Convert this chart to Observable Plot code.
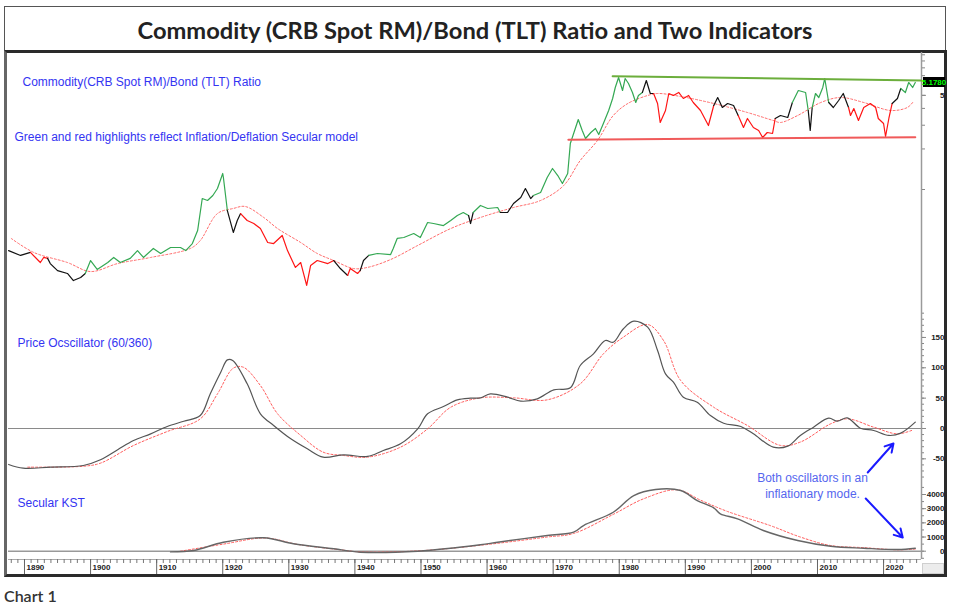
<!DOCTYPE html>
<html><head><meta charset="utf-8">
<script src="https://cdn.jsdelivr.net/npm/d3@7"></script>
<script src="https://cdn.jsdelivr.net/npm/@observablehq/plot@0.6"></script>
<style>
body{margin:0;background:#fff;}
#wrap{position:relative;width:960px;height:609px;background:#fff;overflow:hidden;}
#title{position:absolute;left:4px;top:6px;width:942px;height:46px;box-sizing:border-box;border:1.5px solid #555;border-bottom:none;font-family:Lato,"Open Sans",sans-serif;font-weight:700;font-size:23.7px;color:#222;text-align:center;line-height:46px;}
#frame{position:absolute;left:4px;top:50px;width:943px;height:527px;box-sizing:border-box;border:3px solid #2a2a2a;border-left-color:#666;}
#corner{position:absolute;left:922px;top:563px;width:22px;height:11px;box-sizing:border-box;background:#ececec;border:1px solid #cfcfcf;}
.panel{position:absolute;left:0;}
#caption{position:absolute;left:4px;top:586px;font-family:Lato,"Open Sans",sans-serif;font-weight:600;font-size:16px;color:#333;}
</style></head>
<body>
<div id="wrap">
  <div id="title">Commodity (CRB Spot RM)/Bond (TLT) Ratio and Two Indicators</div>
  <div id="frame"></div>
  <div id="corner"></div>
  <div id="pA" class="panel" style="top:52px"></div>
  <div id="pB" class="panel" style="top:308px"></div>
  <div id="pC" class="panel" style="top:480px"></div>
  <div id="caption">Chart 1</div>
</div>
<script>
// ---------- DATA ----------
const ratioYears = [1887.6,1889.4,1890.9,1892.4,1892.9,1893.5,1893.9,1895.0,1896.5,1897.4,1898.5,1899.2,1900.0,1901.0,1902.6,1903.5,1904.5,1906.0,1907.1,1908.0,1909.5,1910.6,1912.1,1913.6,1914.4,1915.4,1916.2,1916.9,1917.7,1918.5,1919.2,1920.0,1920.1,1920.7,1921.6,1922.2,1922.7,1923.7,1924.7,1925.7,1926.8,1927.7,1929.0,1929.8,1931.0,1931.8,1932.7,1933.3,1934.3,1935.9,1936.8,1937.8,1938.9,1939.3,1940.4,1940.8,1941.3,1942.1,1943.4,1945.4,1945.8,1946.4,1947.4,1948.9,1949.9,1951.0,1951.9,1953.4,1954.5,1955.5,1956.4,1957.2,1957.5,1957.9,1959.0,1960.1,1961.6,1962.0,1963.1,1964.0,1965.1,1965.8,1966.6,1967.0,1968.1,1969.1,1969.9,1970.7,1971.4,1972.2,1972.6,1973.4,1973.8,1974.4,1974.9,1975.7,1976.4,1976.9,1977.6,1978.4,1979.0,1979.4,1979.9,1980.5,1980.9,1981.4,1982.0,1982.5,1982.9,1983.5,1984.1,1984.7,1985.2,1985.8,1986.2,1987.0,1987.5,1988.2,1989.0,1989.7,1990.5,1991.2,1992.3,1993.5,1994.3,1994.9,1995.6,1996.4,1997.3,1998.0,1998.8,1999.4,2000.3,2001.1,2001.7,2002.4,2003.2,2003.6,2004.4,2005.5,2006.2,2007.1,2008.2,2008.6,2008.9,2009.2,2009.7,2010.2,2010.8,2011.1,2011.7,2012.4,2013.2,2013.9,2014.7,2015.0,2015.5,2016.2,2017.0,2018.0,2018.8,2019.2,2020.0,2020.3,2020.8,2021.3,2022.1,2022.6,2023.3,2023.8,2024.4,2024.8];
const ratioValues = [0.352,0.324,0.341,0.287,0.313,0.308,0.282,0.250,0.238,0.211,0.222,0.238,0.297,0.255,0.287,0.313,0.287,0.308,0.352,0.313,0.365,0.335,0.371,0.371,0.352,0.397,0.496,0.857,0.829,0.902,1.017,1.315,1.228,0.698,0.480,0.589,0.663,0.589,0.559,0.513,0.404,0.397,0.456,0.352,0.264,0.287,0.194,0.273,0.297,0.282,0.297,0.259,0.230,0.259,0.238,0.250,0.297,0.324,0.335,0.329,0.365,0.433,0.440,0.471,0.440,0.569,0.559,0.540,0.589,0.641,0.675,0.641,0.559,0.675,0.761,0.723,0.735,0.675,0.675,0.787,0.872,1.017,0.857,0.902,0.950,1.228,1.432,1.270,1.108,1.315,2.195,2.886,3.309,2.742,2.391,2.649,2.837,2.560,3.090,3.859,4.738,5.718,6.783,5.432,6.669,6.123,5.250,4.424,4.987,5.250,6.445,5.160,5.160,4.350,3.144,3.859,5.160,4.987,5.250,4.738,4.987,4.424,3.859,2.986,4.204,4.819,4.062,4.350,4.204,3.543,2.886,3.366,2.886,2.742,2.432,2.649,2.605,3.366,3.543,3.424,4.424,5.432,5.250,3.859,2.742,4.062,5.160,4.819,5.718,6.669,4.424,4.062,4.578,5.160,4.062,3.543,3.993,3.253,4.062,4.350,4.062,3.366,3.090,2.474,3.366,4.350,4.738,5.620,5.250,6.228,5.718,6.228];
// Secular model regimes: i = inflation (green), d = deflation (red), n = neutral (black)
const regimeStartYears = [1887.6,1890.9,1893.5,1899.2,1920.7,1922.7,1936.8,1938.9,1940.8,1942.1,1957.2,1957.9,1962.0,1967.0,1983.5,1985.2,1994.3,1998.0,2003.6,2006.2,2008.6,2009.2,2011.7,2014.7,2021.3,2022.6];
const regimeKinds      = ["n","d","n","i","n","d","n","d","n","i","n","i","n","i","n","d","n","d","n","i","n","i","n","d","n","i"];
const maYears  = [1888.0,1891.4,1896.5,1900.0,1904.1,1909.1,1915.1,1916.6,1919.2,1921.6,1923.4,1926.2,1928.3,1931.8,1934.3,1936.8,1939.8,1941.9,1945.4,1949.5,1954.5,1959.0,1964.0,1968.1,1971.6,1974.1,1976.7,1979.1,1981.3,1984.3,1985.8,1989.3,1994.3,1999.4,2003.3,2004.4,2007.0,2010.5,2013.5,2017.0,2021.1,2023.6,2024.4];
const maValues = [0.433,0.341,0.287,0.246,0.282,0.313,0.365,0.418,0.663,0.723,0.748,0.620,0.513,0.404,0.335,0.297,0.259,0.264,0.302,0.384,0.513,0.620,0.735,0.829,1.071,1.642,2.311,3.543,4.350,4.987,5.160,4.903,4.350,3.729,3.253,3.144,3.543,4.424,4.819,4.424,3.859,4.062,4.424];
const resistanceYears = [1979.0, 2025.7];
const resistanceValues = [6.94, 6.445];
const supportYears = [1972.3, 2024.8];
const supportValues = [2.339, 2.445];
const lastValueLabel = "5.1780";
const ratioTicks = [1,2,3,4,5,6,7,8,9,10];
const ratioLabeledTicks = [5];

const oscYears  = [1887.6,1889.8,1893.9,1898.9,1901.5,1904.1,1906.5,1909.1,1911.6,1914.1,1916.6,1918.1,1919.7,1920.7,1921.5,1923.7,1925.7,1927.7,1930.3,1932.8,1935.2,1938.3,1941.9,1944.3,1946.9,1949.5,1951.0,1953.4,1955.5,1957.5,1959.0,1960.5,1963.1,1965.1,1967.6,1970.1,1972.6,1974.1,1976.1,1977.9,1979.1,1980.6,1982.2,1984.3,1985.8,1987.0,1988.2,1989.7,1991.8,1993.8,1995.8,1998.4,2000.3,2003.3,2005.5,2007.4,2009.4,2011.7,2013.0,2014.5,2016.5,2018.5,2020.8,2022.6,2024.8];
const oscValues = [-59.3,-65.4,-63.7,-61,-51.6,-35,-19.8,-8.8,3.3,12,21.4,57,92.8,113,112,73.6,24.2,5,-17,-33.5,-47.2,-43.4,-46.1,-36.2,-25.3,-0.6,24.2,36.2,47.2,50,50.5,57,51.6,45,48.9,63.7,67,103.8,123,145,142,164,176.8,167,128.5,90,76.3,51.6,43.3,21.4,8.7,3.3,-8.8,-30.8,-29.1,-11.5,2.2,17,12,17.6,0.5,-3.3,-11.5,-7.7,10.4];
const oscSigYears  = [1890.5,1898.9,1901.5,1906.5,1911.6,1916.6,1919.2,1921.6,1923.1,1925.7,1928.3,1931.8,1935.2,1938.3,1941.9,1946.9,1951.0,1954.5,1959.0,1964.0,1969.1,1974.1,1977.6,1980.6,1984.3,1986.7,1989.3,1994.3,1999.4,2004.4,2007.4,2012.0,2014.5,2018.5,2022.1,2024.5];
const oscSigValues = [-63.7,-62.2,-57.1,-28,-5,15.9,57,99.4,101,70.8,24.2,-11.5,-39,-44.5,-47.2,-30.8,-0.6,35,50.5,50.5,47.2,73.6,123,150.3,171.3,145,79,35,4.9,-27.9,-22.4,7.7,15.9,2.2,-8.8,-2.2];
const oscMinorTicks = d3.range(-80, 200, 10);
const oscMajorTicks = [-50, 0, 50, 100, 150];

const kstYears  = [1912.1,1915.6,1920.1,1926.2,1930.7,1936.8,1940.8,1949.5,1959.0,1961.6,1969.1,1973.1,1974.6,1979.1,1982.2,1985.5,1989.3,1991.8,1994.3,1995.3,1997.9,2001.8,2007.0,2012.0,2017.0,2022.1,2024.8];
const kstValues = [-50,50,635,945,522,169,-70,0,451,635,1107,1340,1812,2750,3928,4351,4280,3575,3060,2637,2285,1460,755,353,212,120,212];
const kstSigYears  = [1913.6,1920.1,1926.5,1931.3,1937.8,1940.8,1949.5,1959.0,1969.1,1973.1,1979.1,1983.7,1988.8,1992.3,1996.4,2002.9,2007.4,2012.0,2017.0,2022.1,2024.8];
const kstSigValues = [0,500,930,480,100,-50,20,420,1000,1250,2600,3700,4330,3600,2800,1800,1000,400,250,100,150];
const kstMinorTicks = d3.range(-500, 5000, 500);
const kstMajorTicks = [0, 1000, 2000, 3000, 4000];

const yearTicks = d3.range(1888, 2026);
const decadeTicks = d3.range(1890, 2030, 10);

// ---------- BUILD ----------
const X_DOMAIN = [1887.58, 2025.74];
const pts = (xs, ys) => xs.map((x, i) => ({year: x, value: ys[i]}));
const kindColor = {i: "#34a853", d: "#ff1414", n: "#111111"};
function regimeAt(year) {
  let k = regimeKinds[0];
  for (let j = 0; j < regimeStartYears.length; j++) if (year >= regimeStartYears[j] - 1e-6) k = regimeKinds[j];
  return k;
}
const runs = []; let run = -1, prevKind = null;
ratioYears.forEach((yr, i) => {
  const k = regimeAt(yr);
  const p = {year: yr, value: ratioValues[i]};
  if (k !== prevKind) {
    if (prevKind !== null) runs.push({...p, run, color: kindColor[prevKind]});
    run++; prevKind = k;
  }
  runs.push({...p, run, color: kindColor[k]});
});

const common = {
  width: 960, marginLeft: 8, marginRight: 39, marginTop: 0,
  style: {background: "transparent", overflow: "visible", fontFamily: "'Liberation Sans', Arial, sans-serif"},
  x: {domain: X_DOMAIN, axis: null, label: null},
  color: {type: "identity"}
};
const axisFont = {fontSize: 8, fontWeight: "bold", fill: "#222", label: null};
const tickOnly = {tickFormat: () => "", stroke: "#888", label: null};
const labelStyle = {frameAnchor: "top-left", textAnchor: "start", lineAnchor: "middle", fill: "#3434f2", fontSize: 12};
const last = {year: ratioYears[ratioYears.length - 1], value: ratioValues[ratioValues.length - 1]};

// Panel A: ratio
const plotA = Plot.plot({
  ...common, height: 256, marginBottom: 0,
  y: {type: "log", domain: [0.1308, 10.40], axis: null, label: null},
  marks: [
    Plot.ruleX([X_DOMAIN[1]], {stroke: "#9a9a9a", strokeWidth: 1.5}),
    Plot.axisY({anchor: "right", ticks: ratioTicks, tickSize: 3, ...tickOnly}),
    Plot.axisY({anchor: "right", ticks: ratioLabeledTicks, tickSize: 4, tickPadding: 19, textAnchor: "end", stroke: "#888", tickFormat: d => String(d), ...axisFont}),
    Plot.line(pts(maYears, maValues), {x: "year", y: "value", stroke: "#ff6b6b", strokeWidth: 1, strokeDasharray: "2,2", curve: "catmull-rom"}),
    Plot.line(runs, {x: "year", y: "value", z: "run", stroke: "color", strokeWidth: 1.2}),
    Plot.line(pts(resistanceYears, resistanceValues), {x: "year", y: "value", stroke: "#6cae3c", strokeWidth: 2}),
    Plot.line(pts(supportYears, supportValues), {x: "year", y: "value", stroke: "#f05a5a", strokeWidth: 2}),
    Plot.rect([last], {x1: X_DOMAIN[1], x2: X_DOMAIN[1], y1: "value", y2: "value", insetLeft: 2, insetRight: -24, insetTop: -5, insetBottom: -5, fill: "#000"}),
    Plot.text([last], {x: X_DOMAIN[1], y: "value", text: () => lastValueLabel, dx: 12.5, fill: "#00ff00", fontSize: 8, fontWeight: "bold"}),
    Plot.text(["Commodity(CRB Spot RM)/Bond (TLT) Ratio"], {...labelStyle, dx: 14, dy: 30}),
    Plot.text(["Green and red highlights reflect Inflation/Deflation Secular model"], {...labelStyle, dx: 6, dy: 85})
  ]
});
document.getElementById("pA").appendChild(plotA);

// Panel B: price oscillator
const plotB = Plot.plot({
  ...common, height: 172, marginBottom: 0,
  y: {domain: [-85.7, 197.7], axis: null, label: null},
  marks: [
    Plot.ruleX([X_DOMAIN[1]], {stroke: "#9a9a9a", strokeWidth: 1.5}),
    Plot.axisY({anchor: "right", ticks: oscMinorTicks, tickSize: 2, ...tickOnly}),
    Plot.axisY({anchor: "right", ticks: oscMajorTicks, tickSize: 4, tickPadding: 19, textAnchor: "end", stroke: "#888", tickFormat: d => String(d), ...axisFont}),
    Plot.ruleY([0], {stroke: "#8a8a8a", strokeWidth: 1.2}),
    Plot.line(pts(oscSigYears, oscSigValues), {x: "year", y: "value", stroke: "#ff5c5c", strokeWidth: 1, strokeDasharray: "2,2", curve: "catmull-rom"}),
    Plot.line(pts(oscYears, oscValues), {x: "year", y: "value", stroke: "#555", strokeWidth: 1.2, curve: "catmull-rom"}),
    Plot.text(["Price Ocscillator (60/360)"], {...labelStyle, dx: 9, dy: 35}),
    Plot.text(["Both oscillators in an\ninflationary mode."], {x: 2009.25, y: -92.3, fill: "#5566ee", fontSize: 12, lineHeight: 1.37, textAnchor: "middle", lineAnchor: "middle"}),
    Plot.arrow([{x1: 2017.6, y1: -72.5, x2: 2021.5, y2: -24.7}], {x1: "x1", y1: "y1", x2: "x2", y2: "y2", stroke: "#1a1aff", strokeWidth: 2, headLength: 7})
  ]
});
document.getElementById("pB").appendChild(plotB);

// Panel C: secular KST + time axis
const plotC = Plot.plot({
  ...common, height: 97, marginBottom: 18,
  y: {domain: [-585.5, 4988], axis: null, label: null},
  marks: [
    Plot.ruleX([X_DOMAIN[1]], {stroke: "#9a9a9a", strokeWidth: 1.5}),
    Plot.ruleY([-585.5], {stroke: "#aaa", strokeWidth: 1.2}),
    Plot.axisY({anchor: "right", ticks: kstMinorTicks, tickSize: 2, ...tickOnly}),
    Plot.axisY({anchor: "right", ticks: kstMajorTicks, tickSize: 4, tickPadding: 19, textAnchor: "end", stroke: "#888", tickFormat: d => String(d), ...axisFont}),
    Plot.axisX({anchor: "bottom", ticks: yearTicks, tickSize: 4, ...tickOnly, stroke: "#777"}),
    Plot.axisX({anchor: "bottom", ticks: decadeTicks, tickSize: 15, ...tickOnly, stroke: "#666"}),
    Plot.axisX({anchor: "bottom", ticks: decadeTicks, tickSize: 0, tickPadding: 5, textAnchor: "start", dx: 2, tickFormat: d => String(d), ...axisFont}),
    Plot.ruleY([0], {stroke: "#999", strokeWidth: 1.5}),
    Plot.line(pts(kstSigYears, kstSigValues), {x: "year", y: "value", stroke: "#ff5c5c", strokeWidth: 1, strokeDasharray: "2,2", curve: "catmull-rom"}),
    Plot.line(pts(kstYears, kstValues), {x: "year", y: "value", stroke: "#666", strokeWidth: 1.4, curve: "catmull-rom"}),
    Plot.text(["Secular KST"], {...labelStyle, dx: 9, dy: 23}),
    Plot.arrow([{x1: 2017.3, y1: 3718, x2: 2022.9, y2: 967}], {x1: "x1", y1: "y1", x2: "x2", y2: "y2", stroke: "#1a1aff", strokeWidth: 2, headLength: 7})
  ]
});
document.getElementById("pC").appendChild(plotC);
</script>
</body></html>
